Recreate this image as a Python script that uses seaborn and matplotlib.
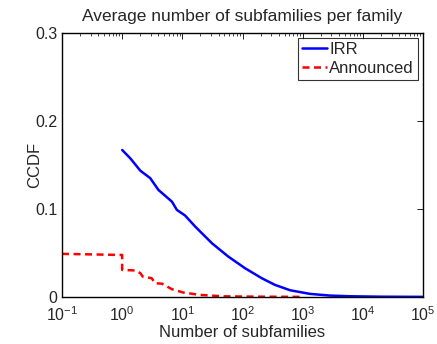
import pandas as pd
import matplotlib
matplotlib.use("Agg")
import matplotlib.pyplot as plt
import seaborn as sns

# values
irr_x = [1, 1.36, 2.0, 2.92, 4.0, 6.7, 8.1, 11.1, 16.3, 31, 58, 110, 209, 347, 620,
         1320, 2800, 6100, 20000, 100000]
irr_y = [0.167, 0.1576, 0.1435, 0.135, 0.1216, 0.1083, 0.0989, 0.0925, 0.080, 0.061,
         0.0458, 0.0326, 0.0212, 0.0136, 0.0075, 0.0034, 0.0015, 0.0007, 0.0002, 0.0]

ann_x = [0.1, 0.9, 1, 1, 1.64, 2.0, 2.2, 3.1, 3.5, 4.6, 6.7, 10.4, 20, 50, 200, 1000]
ann_y = [0.0489, 0.0477, 0.0477, 0.0307, 0.030, 0.027, 0.023, 0.0212, 0.0155, 0.0150,
         0.0087, 0.0049, 0.0022, 0.0006, 0.0002, 0.0]

series = ["IRR", "Announced"]
xticks = [0.1, 1, 10, 100, 1000, 10000, 100000]
xtick_labels = [r"$10^{-1}$", r"$10^{0}$", r"$10^{1}$", r"$10^{2}$",
                r"$10^{3}$", r"$10^{4}$", r"$10^{5}$"]
yticks = [0, 0.1, 0.2, 0.3]
ytick_labels = ["0", "0.1", "0.2", "0.3"]

df = pd.concat([
    pd.DataFrame({"x": irr_x, "y": irr_y, "series": series[0]}),
    pd.DataFrame({"x": ann_x, "y": ann_y, "series": series[1]}),
])

sns.set_style("white")
plt.rcParams["font.family"] = ["Liberation Sans", "DejaVu Sans"]
plt.rcParams["mathtext.fontset"] = "custom"
plt.rcParams["mathtext.rm"] = "Liberation Sans"
plt.rcParams["mathtext.it"] = "Liberation Sans"
plt.rcParams["mathtext.default"] = "regular"

fig, ax = plt.subplots(figsize=(4.37, 3.44), dpi=100)
fig.subplots_adjust(left=0.142, right=0.968, top=0.904, bottom=0.137)

sns.lineplot(data=df, x="x", y="y", hue="series", style="series",
             palette={"IRR": "#0000ff", "Announced": "#ff0000"},
             dashes={"IRR": "", "Announced": (2.8, 1.8)},
             linewidth=1.8, sort=False, estimator=None, ax=ax)

ax.set_xscale("log")
ax.set_xlim(0.1, 1e5)
ax.set_ylim(0, 0.3)
ax.set_xticks(xticks)
ax.set_xticklabels(xtick_labels)
ax.xaxis.set_minor_locator(matplotlib.ticker.LogLocator(base=10, subs=range(2, 10), numticks=20))
ax.xaxis.set_minor_formatter(matplotlib.ticker.NullFormatter())
ax.set_yticks(yticks)
ax.set_yticklabels(ytick_labels)
ax.tick_params(which="both", direction="in", top=True, right=True, labelsize=11.5,
               color="black")
ax.tick_params(axis="x", which="major", pad=6)
ax.tick_params(which="major", length=4, width=0.6)
ax.tick_params(which="minor", length=2, width=0.5)
for s in ax.spines.values():
    s.set_color("black")
    s.set_linewidth(1)

ax.set_title("Average number of subfamilies per family", fontsize=12.5, pad=9)
ax.set_xlabel("Number of subfamilies", fontsize=12, labelpad=1)
ax.set_ylabel("CCDF", fontsize=12, labelpad=-5)

leg = ax.legend(loc="upper right", fontsize=12, frameon=True, fancybox=False,
                handlelength=1.5, handletextpad=0.15, borderpad=0.25,
                labelspacing=0.22, borderaxespad=0.3)
leg.get_frame().set_edgecolor("black")
leg.get_frame().set_linewidth(0.8)

plt.savefig("out.png", dpi=100)
